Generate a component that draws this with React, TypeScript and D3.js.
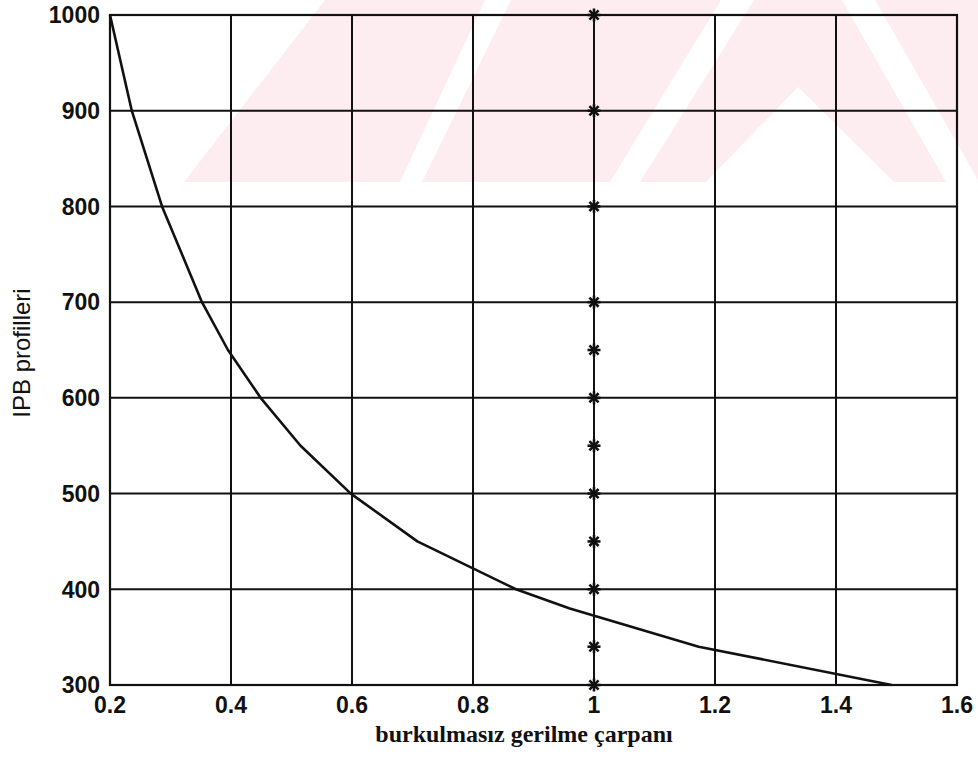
import React, { useEffect, useRef } from 'react';
import * as d3 from 'd3';

// IPB profile height vs. buckling-free stress factor
const profiles = [1000, 900, 800, 700, 650, 600, 550, 500, 450, 400, 380, 340, 300];
const factors = [0.2, 0.236, 0.286, 0.352, 0.395, 0.449, 0.515, 0.598, 0.708, 0.871, 0.96, 1.173, 1.492];

// reference points drawn with '*' at factor = 1
const refProfiles = [1000, 900, 800, 700, 650, 600, 550, 500, 450, 400, 340, 300];
const refFactor = 1;

const xTicks = [0.2, 0.4, 0.6, 0.8, 1, 1.2, 1.4, 1.6];
const yTicks = [300, 400, 500, 600, 700, 800, 900, 1000];

const xTitle = 'burkulmasız gerilme çarpanı';
const yTitle = 'IPB profilleri';

// faint scanned watermark in the page background
const watermarkPink = [[184, 182], [325, 0], [978, 0], [978, 182]];
const watermarkWhite = [
  [[400, 182], [422, 182], [511, 0], [485, 0]],
  [[610, 182], [640, 182], [754, 0], [721, 0]],
  [[706, 182], [798, 87], [894, 182]],
  [[842, 0], [875, 0], [978, 180], [978, 182], [946, 182]],
];

const App = () => {
  const svgRef = useRef<SVGSVGElement>(null);

  useEffect(() => {
    const width = 978;
    const height = 757;
    const margin = { top: 15, right: 21, bottom: 72, left: 110 };

    const svg = d3.select(svgRef.current);
    svg.selectAll('*').remove();

    svg.append('rect').attr('width', width).attr('height', height).attr('fill', '#fff');

    const wm = svg.append('g');
    wm.append('polygon')
      .attr('points', watermarkPink.map(p => p.join(',')).join(' '))
      .attr('fill', '#fdedf0');
    wm.selectAll('polygon.w')
      .data(watermarkWhite)
      .join('polygon')
      .attr('class', 'w')
      .attr('points', d => d.map(p => p.join(',')).join(' '))
      .attr('fill', '#fff');

    const x = d3.scaleLinear().domain([0.2, 1.6]).range([margin.left, width - margin.right]);
    const y = d3.scaleLinear().domain([300, 1000]).range([height - margin.bottom, margin.top]);

    const g = svg.append('g');

    // grid
    g.append('g')
      .selectAll('line')
      .data(xTicks)
      .join('line')
      .attr('x1', d => x(d))
      .attr('x2', d => x(d))
      .attr('y1', y(300))
      .attr('y2', y(1000))
      .attr('stroke', '#111')
      .attr('stroke-width', 2);

    g.append('g')
      .selectAll('line')
      .data(yTicks)
      .join('line')
      .attr('x1', x(0.2))
      .attr('x2', x(1.6))
      .attr('y1', d => y(d))
      .attr('y2', d => y(d))
      .attr('stroke', '#111')
      .attr('stroke-width', 2);

    // frame
    g.append('rect')
      .attr('x', x(0.2))
      .attr('y', y(1000))
      .attr('width', x(1.6) - x(0.2))
      .attr('height', y(300) - y(1000))
      .attr('fill', 'none')
      .attr('stroke', '#111')
      .attr('stroke-width', 2.2);

    // curve
    const line = d3.line<number>()
      .x((_, i) => x(factors[i]))
      .y(d => y(d));

    g.append('path')
      .datum(profiles)
      .attr('d', line)
      .attr('fill', 'none')
      .attr('stroke', '#111')
      .attr('stroke-width', 2.6)
      .attr('stroke-linejoin', 'round');

    // '*' markers
    const r = 6.5;
    const stars = g.append('g')
      .selectAll('g')
      .data(refProfiles)
      .join('g')
      .attr('transform', d => `translate(${x(refFactor)},${y(d)})`)
      .attr('stroke', '#111')
      .attr('stroke-width', 2.6);
    [0, 45, 90, 135].forEach(a => {
      const rad = (a * Math.PI) / 180;
      stars.append('line')
        .attr('x1', -r * Math.cos(rad))
        .attr('y1', -r * Math.sin(rad))
        .attr('x2', r * Math.cos(rad))
        .attr('y2', r * Math.sin(rad));
    });

    // tick labels
    const font = '"Liberation Sans", Arial, sans-serif';
    g.append('g')
      .selectAll('text')
      .data(yTicks)
      .join('text')
      .attr('x', x(0.2) - 10)
      .attr('y', d => y(d))
      .attr('dy', '0.36em')
      .attr('text-anchor', 'end')
      .style('font', `bold 23px ${font}`)
      .attr('fill', '#111')
      .text(d => d);

    g.append('g')
      .selectAll('text')
      .data(xTicks)
      .join('text')
      .attr('x', d => x(d))
      .attr('y', 713)
      .attr('text-anchor', 'middle')
      .style('font', `bold 23px ${font}`)
      .attr('fill', '#111')
      .text(d => d3.format('~g')(d));

    // titles
    svg.append('text')
      .attr('x', 524)
      .attr('y', 742)
      .attr('text-anchor', 'middle')
      .style('font', 'bold 24px "Liberation Serif", "Times New Roman", serif')
      .attr('fill', '#111')
      .text(xTitle);

    svg.append('text')
      .attr('transform', `translate(30,${353}) rotate(-90)`)
      .attr('text-anchor', 'middle')
      .style('font', `24px ${font}`)
      .attr('fill', '#111')
      .text(yTitle);
  }, []);

  return (
    <div style={{ position: 'absolute', left: 0, top: 0 }}>
      <svg ref={svgRef} width={978} height={757} style={{ display: 'block' }}></svg>
    </div>
  );
};

export default App;
